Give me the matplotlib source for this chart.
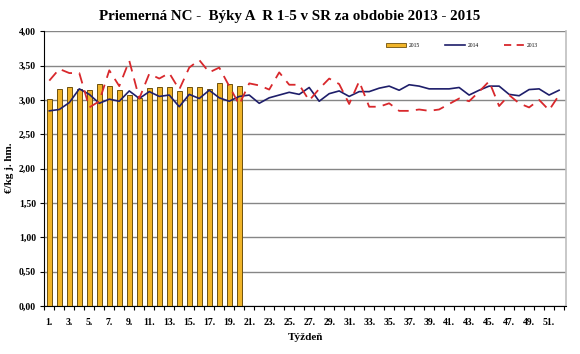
import matplotlib
matplotlib.use("Agg")
import matplotlib.pyplot as plt
from matplotlib.patches import Patch
from matplotlib.lines import Line2D
from matplotlib.ticker import FuncFormatter, FixedLocator

weeks = list(range(1, 53))

# 2015 (bars), weeks 1-20
v2015 = [3.01, 3.16, 3.19, 3.16, 3.14, 3.23, 3.20, 3.14, 3.07, 3.03,
         3.17, 3.19, 3.19, 3.13, 3.18, 3.19, 3.16, 3.24, 3.23, 3.20]

# 2014 (solid navy line)
v2014 = [2.84, 2.86, 2.96, 3.16, 3.08, 2.95, 3.01, 2.98, 3.13, 3.02,
         3.12, 3.05, 3.07, 2.90, 3.08, 3.02, 3.14, 3.03, 2.98, 3.05,
         3.07, 2.95, 3.03, 3.07, 3.11, 3.08, 3.18, 2.98, 3.09, 3.13,
         3.05, 3.12, 3.12, 3.17, 3.20, 3.14, 3.22, 3.20, 3.16, 3.16,
         3.16, 3.18, 3.07, 3.14, 3.20, 3.20, 3.08, 3.06, 3.15, 3.16,
         3.07, 3.14]

# 2013 (dashed red line)
v2013 = [3.28, 3.45, 3.39, 3.39, 2.89, 2.98, 3.43, 3.20, 3.57, 3.02,
         3.38, 3.31, 3.39, 3.15, 3.47, 3.58, 3.40, 3.47, 3.20, 2.93,
         3.24, 3.21, 3.15, 3.40, 3.22, 3.22, 2.99, 3.16, 3.31, 3.23,
         2.94, 3.27, 2.90, 2.90, 2.95, 2.84, 2.84, 2.86, 2.84, 2.86,
         2.94, 3.02, 2.98, 3.12, 3.27, 2.91, 3.07, 2.95, 2.89, 3.00,
         2.85, 3.07]

labels = ["2015", "2014", "2013"]
title = "Priemerná NC -  Býky A  R 1-5 v SR za obdobie 2013 - 2015"
xlabel = "Týždeň"
ylabel = "€/kg j. hm."

serif = ["Liberation Serif", "DejaVu Serif"]
plt.rcParams['font.family'] = serif

fig = plt.figure(figsize=(5.8, 3.54), dpi=100)
ax = fig.add_axes([0.0764, 0.1356, 0.8996, 0.7764])

bar_color = "#F0B429"
bar_edge = "#6E500C"
navy = "#1E1E6A"
red = "#D8282C"

ax.bar(weeks[:len(v2015)], v2015, width=0.48, color=bar_color,
       edgecolor=bar_edge, linewidth=0.7, zorder=2)
ax.plot(weeks[:len(v2014)], v2014, color=navy, linewidth=1.2, zorder=3)
ax.plot(weeks[:len(v2013)], v2013, color=red, linewidth=1.3,
        dashes=(6, 4), zorder=3)

ax.set_xlim(0.5, 52.7)
ax.set_ylim(0, 4.0)
ax.set_yticks([i * 0.5 for i in range(9)])
ax.yaxis.set_major_formatter(FuncFormatter(lambda v, p: f"{v:.2f}".replace(".", ",")))
ax.grid(axis='y', color="#868686", linewidth=1.0, zorder=0)
ax.set_axisbelow(True)

ax.set_xticks(weeks[::2])
ax.set_xticklabels([f"{w}." for w in weeks[::2]])
ax.xaxis.set_minor_locator(FixedLocator([w + 0.5 for w in range(0, 53)]))
ax.tick_params(axis='x', which='major', length=0, pad=9, labelsize=7)
ax.tick_params(axis='x', which='minor', length=3, width=0.8, direction='out')
ax.tick_params(axis='y', which='major', length=3, width=0.8, direction='out',
               labelsize=7, pad=3)
for lab in ax.get_xticklabels() + ax.get_yticklabels():
    lab.set_fontweight('bold')

ax.spines['top'].set_visible(False)
ax.spines['right'].set_color("#BFBFBF")
ax.spines['right'].set_linewidth(1.2)
ax.spines['left'].set_color("black")
ax.spines['bottom'].set_color("black")

fig.text(0.5, 0.952, title, ha='center', va='center', fontsize=10.8,
         fontweight='bold')
ax.set_xlabel(xlabel, fontsize=8, fontweight='bold', labelpad=4)
fig.text(0.017, 0.525, ylabel, rotation=90, ha='center', va='center',
         fontsize=8, fontweight='bold')

handles = [Patch(facecolor=bar_color, edgecolor=bar_edge, linewidth=0.6),
           Line2D([], [], color=navy, linewidth=1.2),
           Line2D([], [], color=red, linewidth=1.3, dashes=(4, 3))]
leg = ax.legend(handles, labels, ncol=3, loc='upper right',
                bbox_to_anchor=(0.955, 0.975), frameon=False, fontsize=4,
                handlelength=3.6, handleheight=0.5, columnspacing=4.5,
                handletextpad=0.5)

fig.savefig("out.png", dpi=100)
